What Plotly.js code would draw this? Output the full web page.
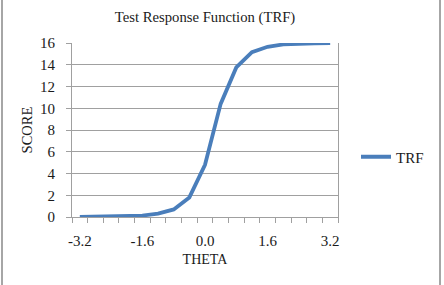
<!DOCTYPE html>
<html>
<head>
<meta charset="utf-8">
<script src="https://cdn.plot.ly/plotly-3.0.1.min.js"></script>
<style>
  html, body { margin: 0; padding: 0; background: #fff; }
  #wrap { position: relative; width: 444px; height: 285px; }
  #chart { width: 444px; height: 285px; }
  .edge { position: absolute; top: 0; width: 2px; height: 285px; background: #a6a6a6; }
</style>
</head>
<body>
<div id="wrap">
  <div id="chart"></div>
  <div class="edge" style="left:1px"></div>
  <div class="edge" style="left:439px"></div>
</div>
<script>
const theta = [-3.2, -2.8, -2.4, -2.0, -1.6, -1.2, -0.8, -0.4, 0.0, 0.4, 0.8, 1.2, 1.6, 2.0, 2.4, 2.8, 3.2];
const score = [0.02, 0.04, 0.08, 0.1, 0.13, 0.32, 0.7, 1.8, 4.8, 10.4, 13.75, 15.15, 15.65, 15.87, 15.94, 15.97, 15.99];
const xTickVals = [-3.2, -1.6, 0.0, 1.6, 3.2];
const xTickText = ['-3.2', '-1.6', '0.0', '1.6', '3.2'];
const seriesName = 'TRF';

const serif = 'Liberation Serif, Times New Roman, serif';
const gray = '#a0a0a0';
const ink = '#1a1a1a';

const trace = {
  x: theta,
  y: score,
  type: 'scatter',
  mode: 'lines',
  name: seriesName,
  line: { color: '#4a7ebb', width: 3.8 }
};

const layout = {
  width: 444,
  height: 285,
  margin: { l: 72, r: 106, t: 43, b: 68 },
  paper_bgcolor: '#fff',
  plot_bgcolor: '#fff',
  showlegend: true,
  title: {
    text: 'Test Response Function (TRF)',
    font: { family: serif, size: 14.7, color: ink },
    x: 0.5, xanchor: 'center', xref: 'paper',
    y: 1 - 17 / 285, yanchor: 'middle'
  },
  xaxis: {
    range: [-3.4, 3.4],
    tickmode: 'array',
    tickvals: xTickVals,
    ticktext: xTickText,
    ticks: 'outside',
    ticklen: 5,
    tickcolor: 'rgba(0,0,0,0)',
    showgrid: false,
    zeroline: false,
    showline: true,
    linecolor: gray,
    linewidth: 1,
    tickfont: { family: serif, size: 15, color: ink },
    ticklabelstandoff: 5,
    minor: { tick0: -3.4, dtick: 0.4, ticks: 'outside', ticklen: 5, tickcolor: gray, showgrid: false },
    title: { text: 'THETA', font: { family: serif, size: 14, color: ink }, standoff: 6 },
    fixedrange: true
  },
  yaxis: {
    range: [0, 16],
    tickmode: 'linear',
    tick0: 0,
    dtick: 2,
    ticks: 'outside',
    ticklen: 5,
    tickcolor: gray,
    showgrid: true,
    gridcolor: gray,
    gridwidth: 1,
    zeroline: false,
    showline: true,
    mirror: true,
    linecolor: gray,
    linewidth: 1,
    tickfont: { family: serif, size: 15, color: ink },
    ticklabelstandoff: 8,
    title: { text: 'SCORE', font: { family: serif, size: 14.5, color: ink }, standoff: 3 },
    fixedrange: true
  },
  legend: {
    x: (356 - 72) / 266,
    xanchor: 'left',
    y: (217 - 157) / 174,
    yanchor: 'middle',
    font: { family: serif, size: 15, color: ink },
    bgcolor: 'rgba(0,0,0,0)',
    itemwidth: 30
  }
};

Plotly.newPlot('chart', [trace], layout, { displayModeBar: false, staticPlot: true });
</script>
</body>
</html>
